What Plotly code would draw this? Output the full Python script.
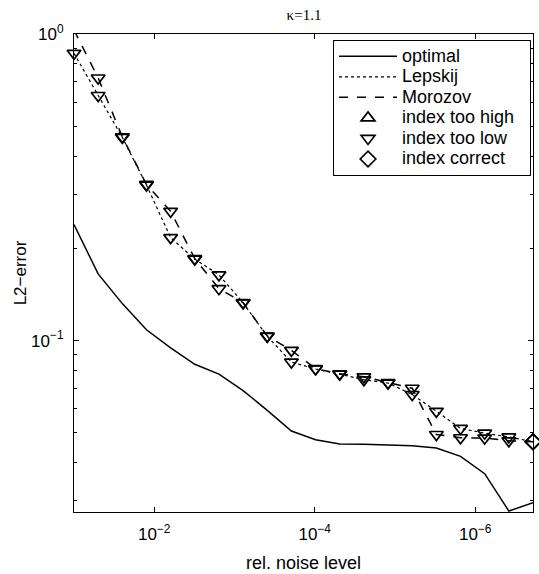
import numpy as np
import plotly.graph_objects as go

# relative noise levels (0.1 * 2^-k)
noise = [0.1, 0.05, 0.025, 0.0125, 6.25e-3, 3.125e-3, 1.5625e-3, 7.8125e-4,
         3.90625e-4, 1.953125e-4, 9.765625e-5, 4.8828125e-5, 2.44140625e-5,
         1.220703125e-5, 6.103515625e-6, 3.0517578125e-6, 1.52587890625e-6,
         7.62939453125e-7, 3.814697265625e-7, 1.9073486328125e-7]

optimal = [0.239, 0.165, 0.132, 0.1085, 0.0947, 0.0837, 0.0777, 0.0687,
           0.0592, 0.0507, 0.0475, 0.0460, 0.0459, 0.0457, 0.0454, 0.0446,
           0.0419, 0.0368, 0.0278, 0.0296]

lepskij = [0.865, 0.630, 0.460, 0.3216, 0.2167, 0.1844, 0.1638, 0.1328,
           0.1032, 0.0851, 0.0808, 0.0777, 0.0745, 0.0727, 0.0667, 0.0588,
           0.0517, 0.0499, 0.0485, 0.0468]

morozov = [1.03, 0.7186, 0.462, 0.323, 0.264, 0.185, 0.1477, 0.133,
           0.1035, 0.0929, 0.081, 0.0779, 0.0762, 0.0729, 0.0699, 0.0494,
           0.0482, 0.0481, 0.0471, 0.0468]

# index status per point: "high", "low", "correct"
lepskij_status = ["low"] * 19 + ["correct"]
morozov_status = ["low"] * 19 + ["correct"]

symbol_map = {"high": "triangle-up-open", "low": "triangle-down-open",
              "correct": "diamond-open"}

Y_MIN, Y_MAX = 0.0276, 1.0

FONT = "Liberation Sans, Arial, sans-serif"


def lg(name):
    return '<span style="font-size:18px">' + name + '\u00a0\u00a0</span>'


fig = go.Figure()

fig.add_trace(go.Scatter(x=noise, y=optimal, mode="lines", name=lg("optimal"),
                         line=dict(color="black", width=1.5)))
fig.add_trace(go.Scatter(x=noise, y=lepskij, mode="lines", name=lg("Lepskij"),
                         line=dict(color="black", width=1.2, dash="dot")))
fig.add_trace(go.Scatter(x=noise, y=morozov, mode="lines", name=lg("Morozov"),
                         line=dict(color="black", width=1.5, dash="dash")))

lx = np.log10(noise)
for vals, status in [(lepskij, lepskij_status), (morozov, morozov_status)]:
    v = np.array(vals)
    keep = (v >= Y_MIN) & (v <= Y_MAX)   # markers outside the axes are not drawn
    fig.add_trace(go.Scatter(
        x=np.array(noise)[keep], y=v[keep], mode="markers", showlegend=False,
        cliponaxis=False,
        marker=dict(symbol=[symbol_map[s] for s, k in zip(status, keep) if k], size=12,
                    color="black", line=dict(width=1.7, color="black"))))

for nm, key in [("index too high", "high"), ("index too low", "low"),
                ("index correct", "correct")]:
    fig.add_trace(go.Scatter(
        x=[None], y=[None], mode="markers", name=lg(nm),
        marker=dict(symbol=symbol_map[key], size=12, color="black",
                    line=dict(width=1.7, color="black"))))

minor_y = [v * 10.0 ** e for e in (-2, -1) for v in range(2, 10)]
eps = 1e-6

fig.update_layout(
    width=539, height=574,
    margin=dict(l=74, r=5, t=34, b=57),
    paper_bgcolor="white", plot_bgcolor="white",
    font=dict(family=FONT, size=17, color="black"),
    title=dict(text="κ=1.1", x=(74 + 534) / 2 / 539, xanchor="center",
               y=1 - 15 / 574, yanchor="middle",
               font=dict(family="Liberation Serif, Times New Roman, serif", size=15)),
    showlegend=True,
    legend=dict(x=0.9957, xanchor="right", y=0.9875, yanchor="top",
                bordercolor="black", borderwidth=1, bgcolor="white",
                font=dict(family=FONT, size=13.5), tracegroupgap=0,
                itemwidth=58),
    xaxis=dict(type="log", range=[lx[0] + eps, lx[-1] - eps],
               tickvals=[1e-2, 1e-4, 1e-6],
               ticktext=["10<sup>−2</sup>", "10<sup>−4</sup>", "10<sup>−6</sup>"],
               ticks="inside", ticklen=5, tickcolor="black",
               showline=True, linecolor="black", linewidth=1, mirror="ticks",
               showgrid=False, zeroline=False, ticklabelstandoff=7,
               title=dict(text="rel. noise level", standoff=12,
                          font=dict(family=FONT, size=18))),
    yaxis=dict(type="log", range=[np.log10(Y_MIN), np.log10(Y_MAX)],
               tickvals=[0.1, 1], ticktext=["10<sup>−1</sup>", "10<sup>0</sup>"],
               ticks="inside", ticklen=5, tickcolor="black",
               minor=dict(tickvals=minor_y, ticks="inside", ticklen=3, tickcolor="black"),
               showline=True, linecolor="black", linewidth=1, mirror="ticks",
               showgrid=False, zeroline=False, ticklabelstandoff=6,
               title=dict(text="L2−error", standoff=0,
                          font=dict(family=FONT, size=17))),
)

fig.write_html("out.html")
